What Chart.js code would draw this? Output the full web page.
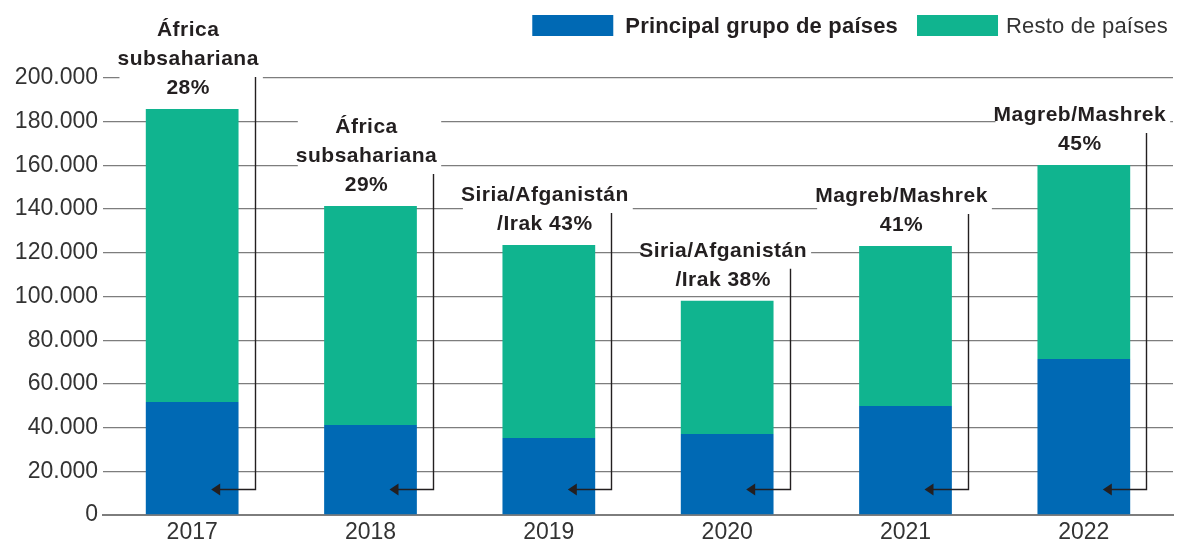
<!DOCTYPE html>
<html>
<head>
<meta charset="utf-8">
<script src="https://cdn.jsdelivr.net/npm/chart.js@4.4.1/dist/chart.umd.min.js"></script>
<style>
  html, body { margin: 0; padding: 0; background: #fff; }
  #wrap { width: 1182px; height: 541px; position: relative; }
</style>
</head>
<body>
<div id="wrap"><canvas id="chart"></canvas></div>
<script>
// data
const years = ['2017', '2018', '2019', '2020', '2021', '2022'];
const principal = [51700, 41200, 35200, 37100, 49900, 71400];   // Principal grupo de países
const resto = [134100, 100200, 88400, 61000, 73200, 88800];     // Resto de países
const yTicks = [0, 20000, 40000, 60000, 80000, 100000, 120000, 140000, 160000, 180000, 200000];
const groupLabels = [
  ['África', 'subsahariana', '28%'],
  ['África', 'subsahariana', '29%'],
  ['Siria/Afganistán', '/Irak 43%'],
  ['Siria/Afganistán', '/Irak 38%'],
  ['Magreb/Mashrek', '41%'],
  ['Magreb/Mashrek', '45%']
];
const seriesNames = ['Principal grupo de países', 'Resto de países'];

const BLUE = '#0069b4';
const GREEN = '#10b48f';
const GRID = '#7d7d7d';
const INK = '#231f20';
const FONT = '"Liberation Sans", Arial, sans-serif';
const ARROW_AT = 12000; // value where the leader arrows point into the bar

const fmt = v => String(v).replace(/\B(?=(\d{3})+(?!\d))/g, '.');

// labels above bars + leader arrows
const annotate = {
  id: 'annotate',
  afterDatasetsDraw(chart) {
    const ctx = chart.ctx;
    const y = chart.scales.y;
    const meta = chart.getDatasetMeta(1);
    ctx.save();
    ctx.font = 'bold 21px ' + FONT;
    if ('letterSpacing' in ctx) ctx.letterSpacing = '0.5px';
    ctx.textAlign = 'center';
    ctx.textBaseline = 'alphabetic';
    const lh = 29;
    meta.data.forEach((bar, i) => {
      const lines = groupLabels[i];
      const cx = bar.x - 4;
      const lastBase = bar.y - 15;
      const firstBase = lastBase - lh * (lines.length - 1);
      let maxW = 0;
      lines.forEach(t => { maxW = Math.max(maxW, ctx.measureText(t).width); });
      // white box hides gridlines behind text
      ctx.fillStyle = '#fff';
      ctx.fillRect(cx - maxW / 2 + 2, firstBase - 21, maxW + 2, lh * (lines.length - 1) + 27);
      ctx.fillStyle = INK;
      lines.forEach((t, k) => ctx.fillText(t, cx, firstBase + k * lh));

      // leader line
      const half = bar.width / 2;
      const lx = Math.round(bar.x + half + 16) + 0.5;
      const ay = Math.round(y.getPixelForValue(ARROW_AT)) + 0.5;
      const tip = bar.x + 19;
      ctx.strokeStyle = INK;
      ctx.lineWidth = 1.4;
      ctx.beginPath();
      ctx.moveTo(lx, lastBase - 17);
      ctx.lineTo(lx, ay);
      ctx.lineTo(tip + 6, ay);
      ctx.stroke();
      ctx.beginPath();
      ctx.moveTo(tip, ay);
      ctx.lineTo(tip + 9, ay - 6);
      ctx.lineTo(tip + 9, ay + 6);
      ctx.closePath();
      ctx.fill();
    });
    ctx.restore();
  },
  afterDraw(chart) {
    // legend, right aligned at top
    const ctx = chart.ctx;
    ctx.save();
    if ('letterSpacing' in ctx) ctx.letterSpacing = '0.2px';
    ctx.textBaseline = 'alphabetic';
    ctx.textAlign = 'left';
    ctx.font = '22px ' + FONT;
    const w2 = ctx.measureText(seriesNames[1]).width;
    ctx.font = 'bold 22px ' + FONT;
    const w1 = ctx.measureText(seriesNames[0]).width;
    const t2 = 1168 - w2;
    const r2 = t2 - 8 - 81;
    const t1 = r2 - 19 - w1;
    const r1 = t1 - 12 - 81;
    ctx.fillStyle = BLUE;
    ctx.fillRect(r1, 15, 81, 21);
    ctx.fillStyle = GREEN;
    ctx.fillRect(r2, 15, 81, 21);
    ctx.fillStyle = INK;
    ctx.fillText(seriesNames[0], t1, 33);
    ctx.font = '22px ' + FONT;
    ctx.fillStyle = '#333';
    ctx.fillText(seriesNames[1], t2, 33);
    ctx.restore();
  }
};

new Chart(document.getElementById('chart'), {
  type: 'bar',
  data: {
    labels: years,
    datasets: [
      { label: seriesNames[0], data: principal, backgroundColor: BLUE },
      { label: seriesNames[1], data: resto, backgroundColor: GREEN }
    ]
  },
  options: {
    responsive: true,
    maintainAspectRatio: false,
    animation: false,
    barPercentage: 0.52,
    categoryPercentage: 1,
    layout: { padding: { top: 78, right: 9, left: 0, bottom: 0 } },
    plugins: { legend: { display: false }, tooltip: { enabled: false } },
    scales: {
      x: {
        stacked: true,
        grid: { display: false },
        border: { display: true, color: GRID, width: 2 },
        ticks: { color: '#333', font: { family: FONT, size: 23 }, padding: -4 },
        afterFit(s) { s.height = 26; }
      },
      y: {
        stacked: true,
        min: 0,
        max: 200000,
        afterBuildTicks(s) { s.ticks = yTicks.map(v => ({ value: v })); },
        grid: { color: GRID, lineWidth: 1.3, drawTicks: false },
        border: { display: false },
        ticks: {
          color: '#333',
          font: { family: FONT, size: 23 },
          padding: 5,
          callback: v => fmt(v)
        },
        afterFit(s) { s.width = 103; }
      }
    }
  },
  plugins: [annotate]
});
</script>
</body>
</html>
